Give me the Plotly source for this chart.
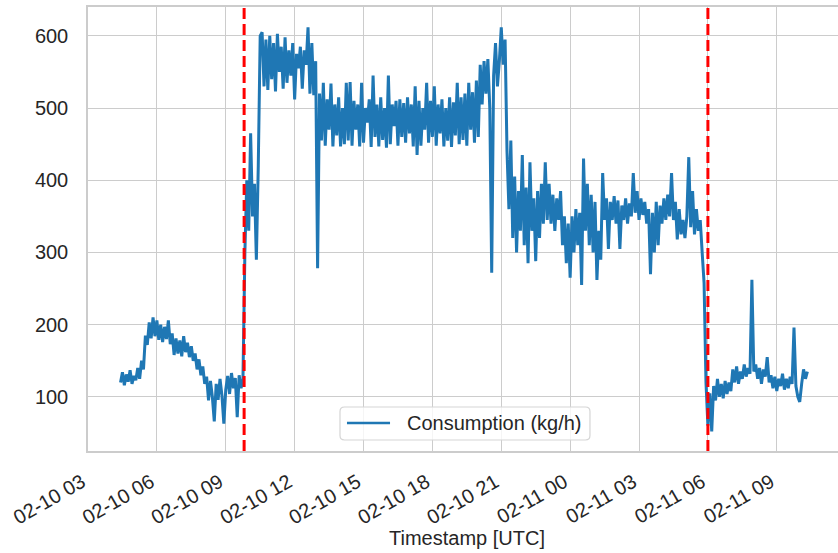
import pandas as pd
import plotly.graph_objects as go

# Gas consumption sampled every 5 minutes, starting 2024-02-10 04:25 UTC
start_time = "2024-02-10 04:25"
sample_step = "5min"
consumption = [
    120, 134, 116, 131, 121, 137, 118, 129, 123, 140, 125, 150, 138, 185, 172, 203,
    181, 210, 184, 206, 179, 200, 176, 197, 180, 206, 173, 188, 158, 181, 160, 178,
    156, 184, 162, 175, 155, 170, 150, 160, 138, 152, 130, 142, 118, 128, 95, 122,
    100, 66, 118, 96, 125, 102, 63, 110, 129, 104, 133, 112, 126, 72, 130, 112,
    125, 300, 400, 330, 465, 350, 395, 290, 420, 600, 605, 530, 595, 525, 600, 540,
    590, 523, 603, 550, 585, 527, 598, 535, 580, 545, 590, 512, 575, 555, 585, 527,
    580, 560, 612, 520, 590, 518, 565, 278, 520, 455, 535, 448, 512, 470, 534, 447,
    505, 462, 515, 447, 500, 450, 535, 455, 536, 448, 510, 470, 505, 447, 535, 452,
    500, 480, 512, 446, 545, 460, 505, 447, 515, 456, 500, 445, 545, 450, 505, 475,
    510, 448, 512, 460, 507, 452, 515, 465, 505, 447, 530, 435, 510, 448, 500, 470,
    535, 452, 510, 460, 530, 448, 505, 465, 512, 447, 500, 455, 515, 446, 508, 462,
    535, 450, 515, 456, 520, 448, 535, 470, 522, 452, 538, 460, 560, 505, 565, 520,
    568, 500, 272, 545, 590, 530, 565, 612, 560, 595, 440, 360, 455, 320, 405, 300,
    385, 330, 435, 310, 390, 285, 425, 330, 375, 288, 385, 320, 395, 340, 425, 345,
    395, 340, 380, 330, 375, 345, 385, 310, 350, 285, 340, 265, 350, 300, 360, 310,
    355, 255, 430, 330, 395, 310, 380, 300, 370, 262, 330, 290, 410, 345, 375, 305,
    370, 345, 378, 340, 372, 305, 365, 345, 375, 340, 368, 350, 410, 355, 385, 345,
    375, 352, 370, 340, 360, 270, 355, 300, 370, 310, 365, 340, 375, 345, 380, 350,
    410, 345, 370, 318, 360, 325, 345, 320, 350, 432, 335, 385, 325, 360, 330, 345,
    300, 258, 120, 60, 105, 52, 115, 95, 125, 100, 118, 98, 122, 104, 120, 108,
    138, 120, 142, 118, 135, 125, 145, 128, 140, 132, 262, 135, 145, 125, 140, 118,
    138, 128, 155, 120, 130, 112, 128, 108, 125, 115, 132, 110, 125, 112, 128, 118,
    196, 115, 100, 93, 118, 138, 125, 135,
]
series_name = "Consumption (kg/h)"

# Period boundaries marked with dashed lines
event_times = ["2024-02-10 09:48", "2024-02-11 06:00"]

x_range = ["2024-02-10 03:00", "2024-02-11 11:40"]
y_range = [25, 640]
y_ticks = [100, 200, 300, 400, 500, 600]

timestamps = pd.date_range(start=start_time, periods=len(consumption), freq=sample_step)

line_color = "#1f77b4"
grid_color = "#cccccc"
text_color = "#262626"
font_family = "Liberation Sans, Arial, sans-serif"

fig = go.Figure()
fig.add_trace(
    go.Scatter(
        x=timestamps,
        y=consumption,
        mode="lines",
        name=series_name,
        line=dict(color=line_color, width=3),
        showlegend=False,
    )
)

for t in event_times:
    fig.add_shape(
        type="line",
        xref="x",
        yref="paper",
        x0=t,
        x1=t,
        y0=0,
        y1=1,
        line=dict(color="red", width=3, dash="11px,5px"),
        layer="above",
    )

# Legend box (drawn in paper coordinates, rounded frame)
lx0, lx1, ly0, ly1 = 0.336, 0.6693, 0.0248, 0.0991
rx, ry = 0.006, 0.010
legend_path = (
    f"M {lx0 + rx} {ly0} L {lx1 - rx} {ly0} Q {lx1} {ly0} {lx1} {ly0 + ry} "
    f"L {lx1} {ly1 - ry} Q {lx1} {ly1} {lx1 - rx} {ly1} "
    f"L {lx0 + rx} {ly1} Q {lx0} {ly1} {lx0} {ly1 - ry} "
    f"L {lx0} {ly0 + ry} Q {lx0} {ly0} {lx0 + rx} {ly0} Z"
)
fig.add_shape(
    type="path",
    xref="paper",
    yref="paper",
    path=legend_path,
    fillcolor="rgba(255,255,255,0.8)",
    line=dict(color="#d5d5d5", width=1.2),
    layer="above",
)
legend_y = 0.0631
fig.add_shape(
    type="line",
    xref="paper",
    yref="paper",
    x0=0.3453,
    x1=0.4027,
    y0=legend_y,
    y1=legend_y,
    line=dict(color=line_color, width=2.6),
    layer="above",
)
fig.add_annotation(
    text=series_name,
    xref="paper",
    yref="paper",
    x=0.4227,
    y=legend_y,
    xanchor="left",
    yanchor="middle",
    showarrow=False,
    font=dict(size=20, color=text_color, family=font_family),
)

fig.add_annotation(
    text="Timestamp [UTC]",
    xref="paper",
    yref="paper",
    x=0.505,
    y=-0.196,
    xanchor="center",
    yanchor="middle",
    showarrow=False,
    font=dict(size=20, color=text_color, family=font_family),
)

fig.update_layout(
    width=838,
    height=553,
    margin=dict(l=88, r=0, t=7, b=102),
    paper_bgcolor="white",
    plot_bgcolor="white",
    font=dict(family=font_family, size=20, color=text_color),
    showlegend=False,
    xaxis=dict(
        type="date",
        range=x_range,
        tick0="2024-02-10 00:00",
        dtick=3 * 3600 * 1000,
        tickformat="%m-%d %H",
        tickangle=-30,
        showgrid=True,
        gridcolor=grid_color,
        gridwidth=1.3,
        showline=True,
        linecolor=grid_color,
        linewidth=1.5,
        mirror=True,
        zeroline=False,
        ticks="",
        ticklabelstandoff=10,
        ticklabelshift=-6,
    ),
    yaxis=dict(
        range=y_range,
        tickvals=y_ticks,
        showgrid=True,
        gridcolor=grid_color,
        gridwidth=1.3,
        showline=True,
        linecolor=grid_color,
        linewidth=1.5,
        zeroline=False,
        ticks="",
        ticklabelstandoff=14,
    ),
)

fig.write_html("out.html")
